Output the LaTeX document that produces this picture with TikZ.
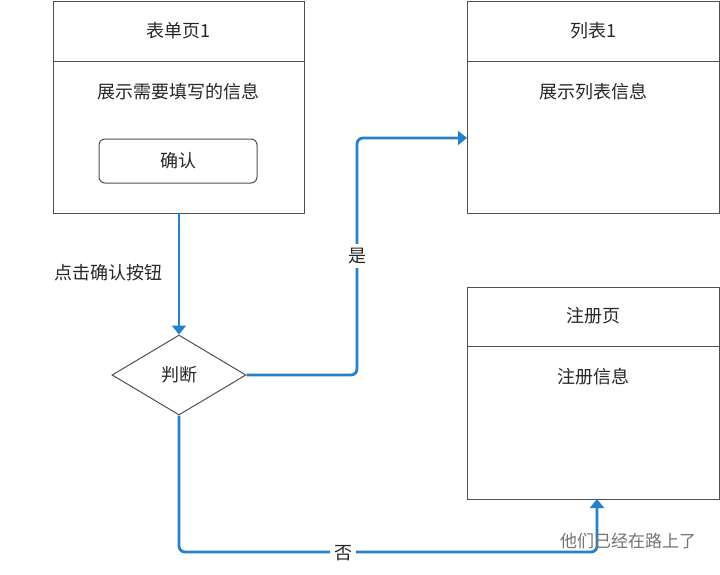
\documentclass[tikz,border=0pt]{standalone}
\usepackage{fontspec}
\setmainfont{Noto Sans CJK SC}
\usetikzlibrary{arrows.meta,shapes.geometric}
\definecolor{flow}{RGB}{36,128,200}
\definecolor{edge}{RGB}{80,80,80}
\begin{document}
\begin{tikzpicture}[x=1pt,y=-1pt,
  box/.style={draw=edge,line width=1pt},
  txt/.style={font=\fontsize{18}{20}\selectfont,text=black!85},
  conn/.style={draw=flow,line width=2.8pt,rounded corners=6pt,-{Triangle[length=9pt,width=14pt]}}]
\useasboundingbox (0,0) rectangle (720,574);
% box 1
\draw[box] (53,1) rectangle (304,213);
\draw[box] (53,61) -- (304,61);
\node[txt] (t1) at (178,31) {表单页1};
\node[txt] (c1) at (178,92) {展示需要填写的信息};
\node[draw=edge,line width=1pt,rounded corners=6pt,minimum width=158pt,minimum height=44pt,txt] (btn) at (178,161) {确认};
\coordinate (b1) at (179,213);
% box 2
\draw[box] (467,1) rectangle (719,213);
\draw[box] (467,61) -- (719,61);
\node[txt] (t2) at (593,31) {列表1};
\node[txt] (c2) at (593,92) {展示列表信息};
\coordinate (l2) at (467,138);
% box 3
\draw[box] (467,287) rectangle (719,499);
\draw[box] (467,346) -- (719,346);
\node[txt] (t3) at (593,316) {注册页};
\node[txt] (c3) at (593,377) {注册信息};
\coordinate (b3) at (597,499);
% diamond
\node[draw=edge,line width=1pt,diamond,aspect=1.675,minimum width=134pt,minimum height=80pt,inner sep=0pt,txt] (d) at (179,375) {判断};
% connectors
\draw[conn] (b1) -- (d.north);
\node[txt] (lab1) at (108,273) {点击确认按钮};
\draw[conn] (d.east) -- (357,375) -- (357,138) -- (l2);
\node[txt,fill=white,inner sep=4pt] (yes) at (357,256) {是};
\draw[conn] (d.south) -- (179,552) -- (597,552) -- (b3);
\node[txt,fill=white,inner sep=4pt] (no) at (343,553) {否};
\node[font=\fontsize{17}{19}\selectfont,text=black!55] (wm) at (628,541) {他们已经在路上了};
\end{tikzpicture}
\end{document}
